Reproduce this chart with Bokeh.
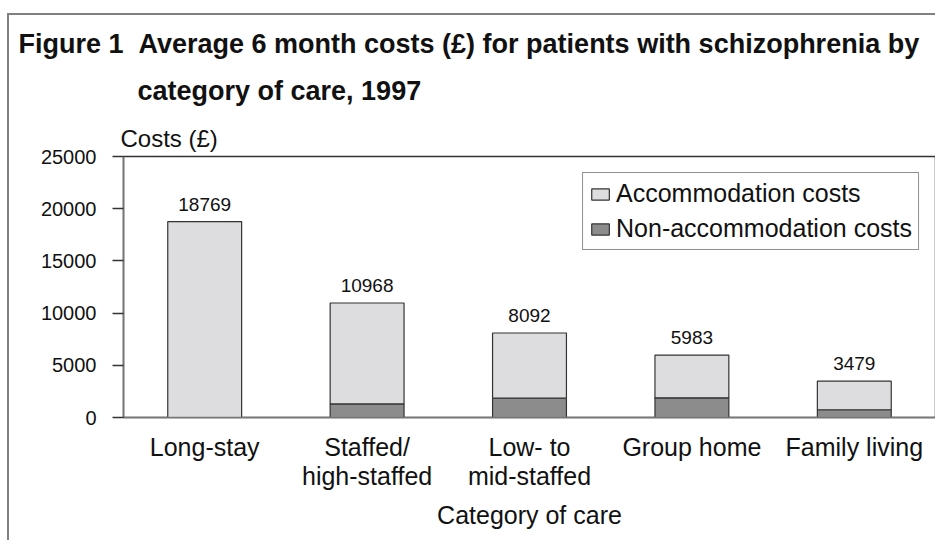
from bokeh.plotting import figure
from bokeh.models import (ColumnDataSource, FactorRange, Range1d, Legend, LegendItem,
                          LabelSet, Title, FixedTicker)
from bokeh.embed import file_html
from bokeh.resources import INLINE
from bokeh.core.properties import value

# ---- data ----
categories = ["Long-stay", "Staffed/\nhigh-staffed", "Low- to\nmid-staffed", "Group home", "Family living"]
totals = [18769, 10968, 8092, 5983, 3479]
non_accommodation = [0, 1300, 1850, 1880, 740]
y_ticks = [0, 5000, 10000, 15000, 20000, 25000]
series_names = ["Accommodation costs", "Non-accommodation costs"]
title_line1 = "Figure 1\u00a0\u00a0Average 6 month costs (\u00a3) for patients with schizophrenia by"
title_line2 = "category of care, 1997"
y_title = "Costs (\u00a3)"
x_title = "Category of care"

FONT = "Liberation Sans"
LIGHT = "#DDDDDF"
DARK = "#8C8C8C"
EDGE = "#333333"
INK = "#111111"

src = ColumnDataSource(dict(
    cat=categories,
    total=totals,
    non=non_accommodation,
    label=[str(t) for t in totals],
))

p = figure(x_range=FactorRange(*categories), y_range=Range1d(0, 25000),
           width=928, height=527, output_backend="svg", toolbar_location=None,
           title=None,
           min_border_left=114, min_border_right=2, min_border_top=141,
           min_border_bottom=125)
p.styles = {"border-top": "2px solid #808080", "border-left": "2px solid #808080",
            "margin-top": "13px", "margin-left": "7px"}

r_non = p.vbar(x="cat", bottom=0, top="non", width=0.455, source=src,
               fill_color=DARK, line_color=EDGE, line_width=1.2)
r_acc = p.vbar(x="cat", bottom="non", top="total", width=0.455, source=src,
               fill_color=LIGHT, line_color=EDGE, line_width=1.2)

p.add_layout(LabelSet(x="cat", y="total", text="label", source=src, y_offset=11,
                      text_align="center", text_baseline="alphabetic",
                      text_font=value(FONT), text_font_size="19px", text_color=INK))

legend = Legend(items=[LegendItem(label=series_names[0], renderers=[r_acc]),
                       LegendItem(label=series_names[1], renderers=[r_non])],
                location="top_right", margin=16, padding=6, spacing=6,
                glyph_width=22, glyph_height=14, label_standoff=5,
                label_text_font=FONT, label_text_font_size="25px", label_text_color=INK,
                border_line_color="#222222", border_line_width=1.2,
                background_fill_color="white", background_fill_alpha=1.0)
p.add_layout(legend)

# axes
p.xgrid.visible = False
p.ygrid.visible = False
p.outline_line_color = EDGE
p.outline_line_width = 1.5

ya = p.yaxis[0]
ya.ticker = FixedTicker(ticks=y_ticks)
ya.major_tick_out = 11
ya.major_tick_in = 0
ya.minor_tick_out = 0
ya.minor_tick_in = 0
ya.major_tick_line_color = EDGE
ya.major_tick_line_width = 1.5
ya.axis_line_color = "#777777"
ya.axis_line_width = 1.5
ya.major_label_standoff = 16
ya.major_label_text_font = FONT
ya.major_label_text_font_size = "20px"
ya.major_label_text_color = INK

xa = p.xaxis[0]
xa.major_tick_out = 0
xa.major_tick_in = 0
xa.axis_line_color = "#777777"
xa.axis_line_width = 1.5
xa.major_label_standoff = 15
xa.major_label_text_font = FONT
xa.major_label_text_font_size = "25px"
xa.major_label_text_line_height = 1.05
xa.major_label_text_color = INK
xa.axis_label = x_title
xa.axis_label_standoff = 8
xa.axis_label_text_font = FONT
xa.axis_label_text_font_size = "25px"
xa.axis_label_text_font_style = "normal"
xa.axis_label_text_color = INK

# title rows (first added sits nearest the frame)
p.add_layout(Title(text=y_title, align="left", offset=-3, standoff=10,
                   text_font=FONT, text_font_size="24px", text_font_style="normal",
                   text_color=INK), "above")
p.add_layout(Title(text=title_line2, align="left", offset=14, standoff=23,
                   text_font=FONT, text_font_size="27px", text_font_style="bold",
                   text_color=INK), "above")
p.add_layout(Title(text=title_line1, align="left", offset=-105, standoff=7,
                   text_font=FONT, text_font_size="27px", text_font_style="bold",
                   text_color=INK), "above")

open("out.html", "w").write(file_html(p, INLINE))
